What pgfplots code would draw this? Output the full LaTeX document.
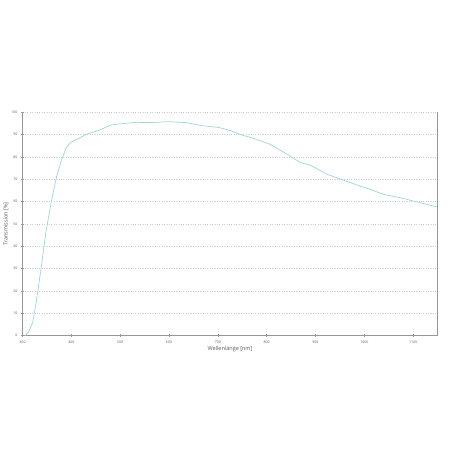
\documentclass[border=0pt]{standalone}
\usepackage{fontspec}
\setmainfont{Open Sans}
\usepackage{pgfplots}
\pgfplotsset{compat=1.18}

\definecolor{curve}{RGB}{160,212,214}
\definecolor{axisgray}{RGB}{150,150,150}
\definecolor{gridgray}{RGB}{205,205,205}
\definecolor{labelgray}{RGB}{90,90,90}

\begin{document}
\begin{tikzpicture}
\useasboundingbox (0,0) rectangle (455pt,455pt);
\begin{axis}[
    at={(22.5pt,119.3pt)}, anchor=south west,
    scale only axis,
    width=415pt, height=223.4pt,
    xmin=300, xmax=1150,
    ymin=0, ymax=100,
    axis lines=left,
    axis line style={-, axisgray, line width=0.8pt},
    xtick={300,400,...,1100},
    ytick={0,10,...,100},
    tick align=center,
    major tick length=3pt,
    tick style={axisgray, line width=0.5pt},
    ymajorgrids,
    grid style={gridgray, dotted, line width=0.6pt},
    ticklabel style={font=\fontsize{3.5}{4}\selectfont, text=labelgray},
    /pgf/number format/assume math mode=true,
    /pgf/number format/set thousands separator={},
    xlabel={Wellenlänge [nm]},
    ylabel={Transmission [\%]},
    label style={font=\fontsize{5.5}{6}\selectfont, text=labelgray},
    xlabel style={yshift=4pt},
    ylabel style={yshift=-4pt},
    clip=false,
]
\addplot[curve, line width=0.7pt] coordinates {
(305,0) (312,1.5) (321,6) (328,15) (338,30) (348,46.5) (359,60) (369,70.5)
(379,78) (389,84) (399,86.6) (416,88.4) (430,90.1) (457,92) (481,94.3)
(498,94.8) (532,95.5) (566,95.4) (600,95.8) (634,95.4) (668,94) (702,93.2)
(725,91.9) (745,90.1) (772,88.4) (807,85.7) (842,81.2) (869,77.5) (890,76.3)
(923,72.3) (958,69.6) (991,67) (1012,65.5) (1039,63.3) (1073,61.8)
(1100,60.3) (1128,58.8) (1150,57.6)
};
\draw[axisgray, line width=0.8pt] (rel axis cs:1,0) -- (rel axis cs:1,1);
\end{axis}
\end{tikzpicture}
\end{document}
